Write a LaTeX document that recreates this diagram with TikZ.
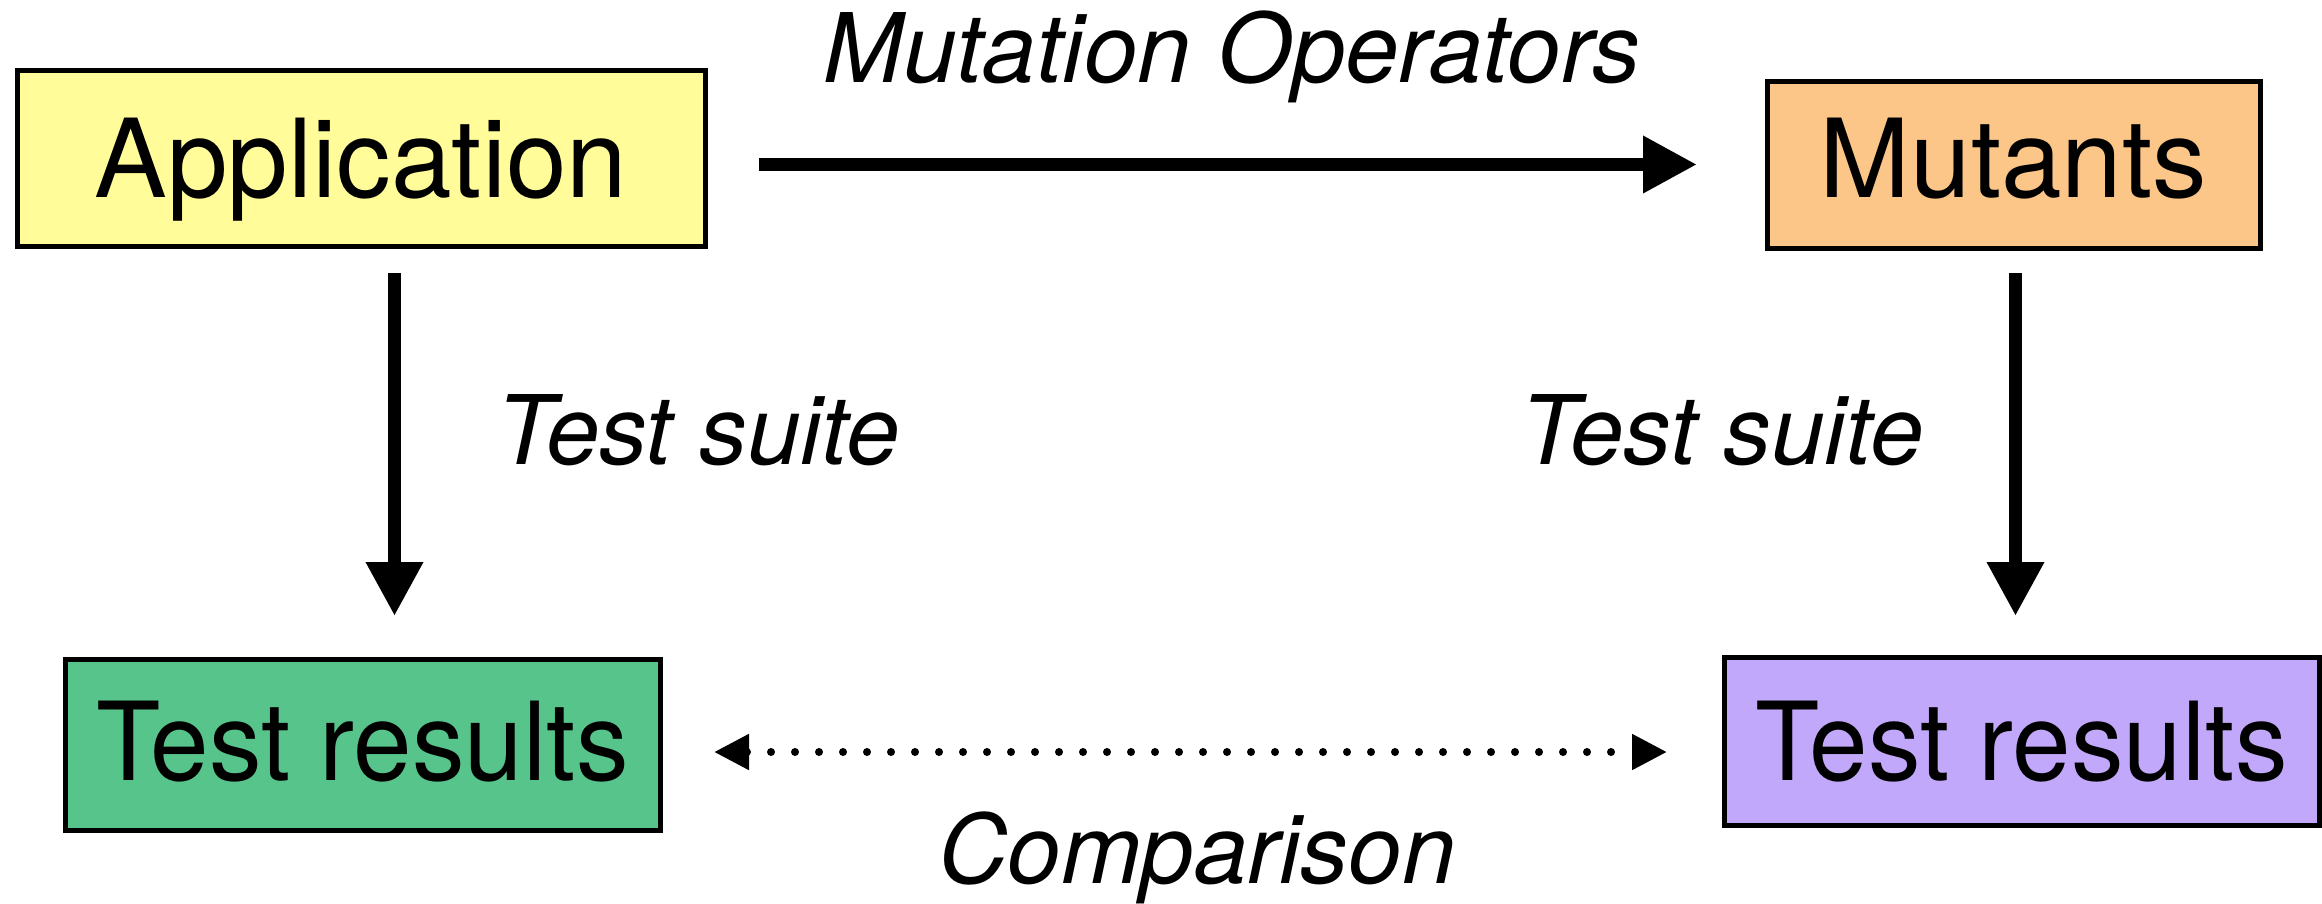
\documentclass[tikz,border=0pt]{standalone}
\usepackage{fontspec}
\setmainfont{TeX Gyre Heros}
\usetikzlibrary{arrows.meta,calc}
\definecolor{appyellow}{RGB}{255,252,153}
\definecolor{mutorange}{RGB}{253,198,137}
\definecolor{resgreen}{RGB}{87,197,139}
\definecolor{respurple}{RGB}{194,168,250}
\begin{document}
\begin{tikzpicture}[x=1pt,y=-1pt,
  box/.style={draw=black, line width=5pt, inner sep=0pt, outer sep=0pt,
    font=\fontsize{109}{120}\selectfont, text depth=0pt},
  lbl/.style={font=\fontsize{96}{110}\selectfont\itshape, inner sep=0pt, anchor=base},
  bigarrow/.style={line width=13pt, -{Triangle[length=54pt,width=54pt]}},
  cmp/.style={line width=8pt, line cap=round, dash pattern=on 0pt off 24pt,
    {Triangle[length=35pt,width=34pt]}-{Triangle[length=35pt,width=34pt]}}
]
\useasboundingbox (0,0) rectangle (2322,903);

\node[box, fill=appyellow, minimum width=688pt, minimum height=176pt, text height=78pt] (app) at (361,158) {Application};
\node[box, fill=mutorange, minimum width=493pt, minimum height=167pt, text height=65.6pt] (mut) at (2013.5,164.5) {Mutants};
\node[box, fill=resgreen, minimum width=595pt, minimum height=171pt, text height=72.4pt] (tr1) at (362.5,744.5) {\scalebox{0.965}[1]{Test results}};
\node[box, fill=respurple, minimum width=595pt, minimum height=168pt, text height=79.4pt] (tr2) at (2021.5,741) {\scalebox{0.965}[1]{Test results}};

\node[lbl] (mo) at (1232,82) {Mutation Operators};
\node[lbl] (ts1) at (698.5,464) {Test suite};
\node[lbl] (ts2) at (1722.5,464) {Test suite};
\node[lbl] (cp) at (1197,883) {Comparison};

\draw[bigarrow, shorten <=54pt, shorten >=70pt] (app.east |- mut.west) -- (mut.west);

\coordinate (a1) at ($(app.south)+(33.5,0)$);
\draw[bigarrow, shorten <=27pt, shorten >=43pt] (a1) -- (a1 |- tr1.north);

\coordinate (m1) at ($(mut.south)+(2,0)$);
\draw[bigarrow, shorten <=25pt, shorten >=41pt] (m1) -- (m1 |- tr2.north);

\coordinate (c1) at ($(tr1.east)+(0,7.5)$);
\draw[cmp, shorten <=54pt, shorten >=57pt] (c1) -- (c1 -| tr2.west);
\end{tikzpicture}
\end{document}
